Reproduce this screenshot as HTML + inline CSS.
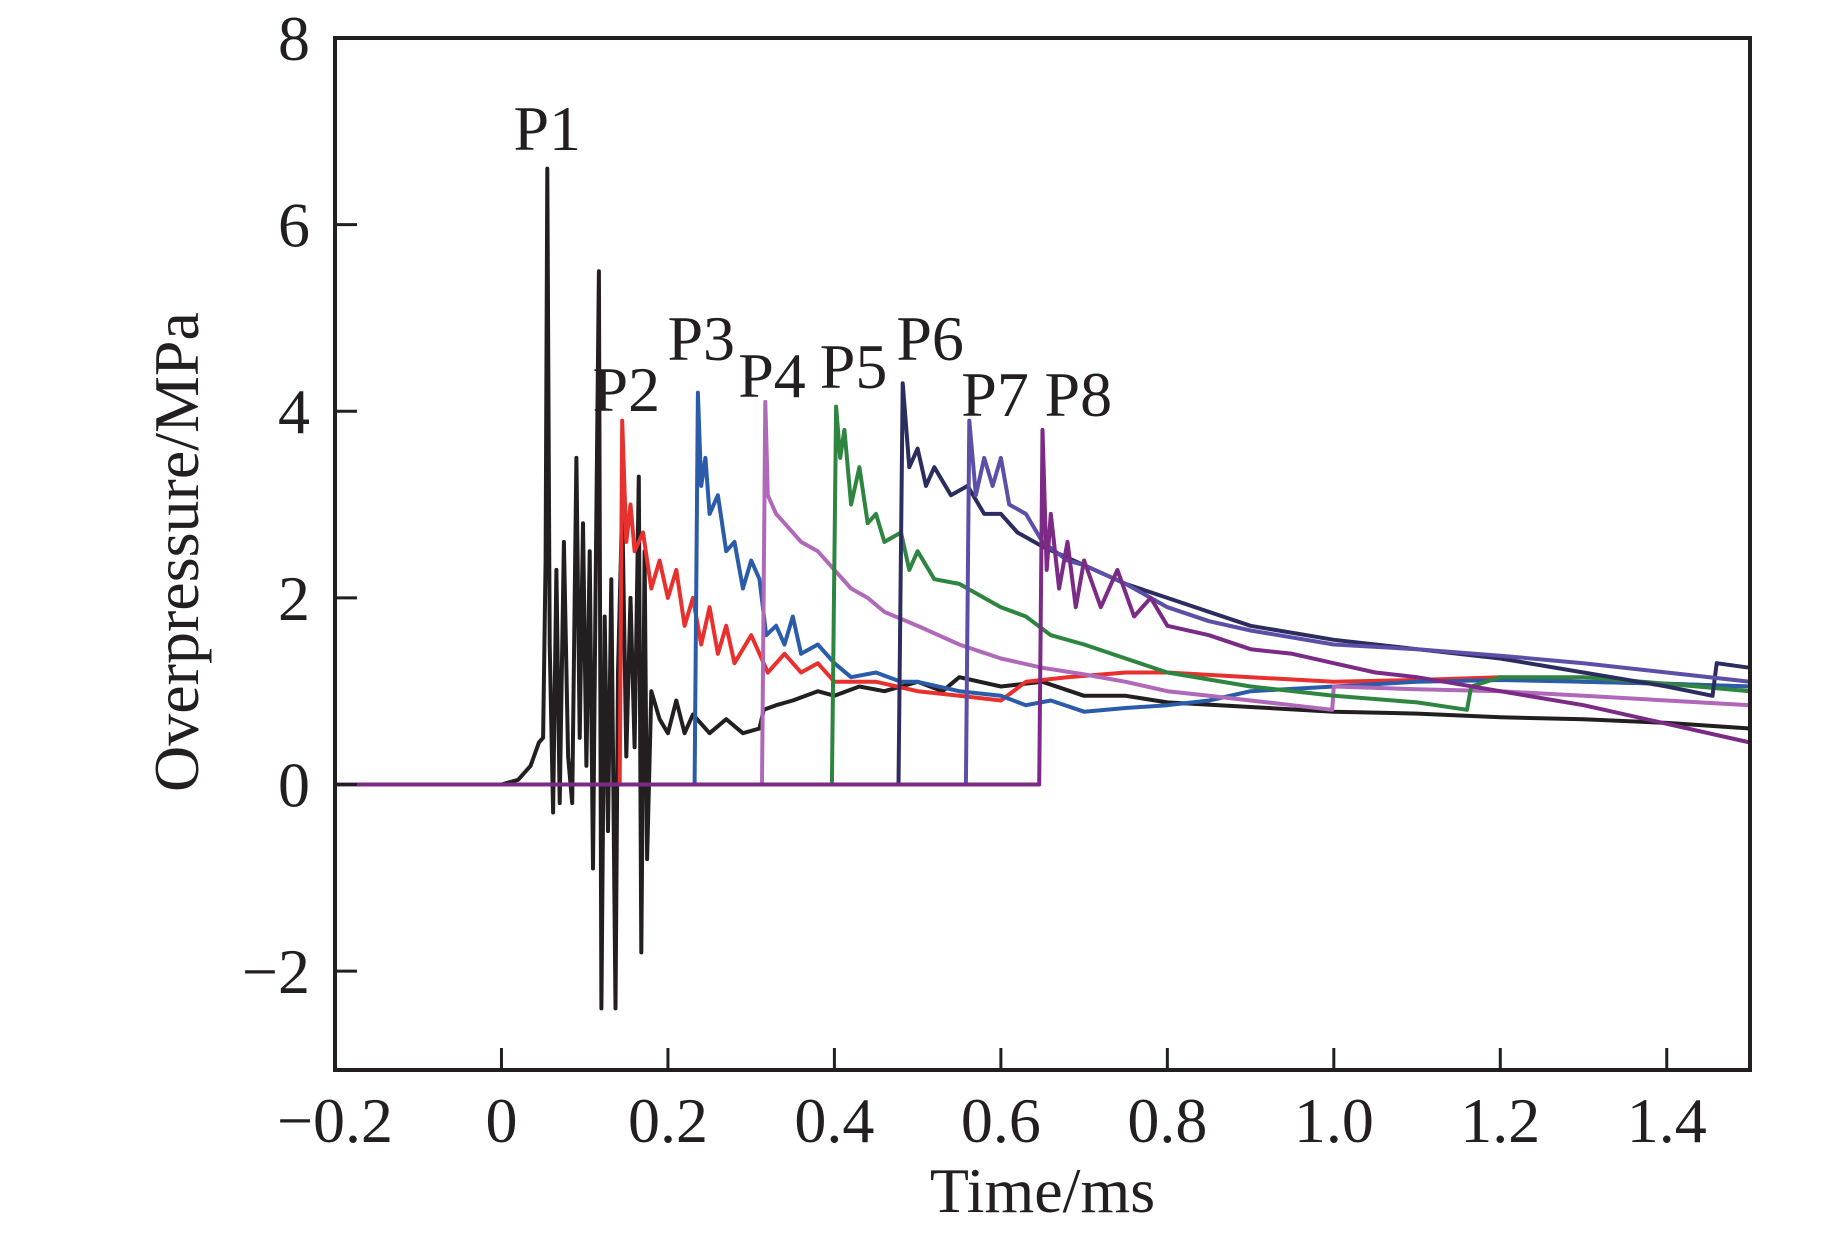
<!DOCTYPE html>
<html><head><meta charset="utf-8"><style>
html,body{margin:0;padding:0;background:#fff;}
svg{display:block;}
text{font-family:"Liberation Serif",serif;fill:#231f20;}
</style></head><body>
<svg id="chart" width="1843" height="1233" viewBox="0 0 1843 1233" xmlns="http://www.w3.org/2000/svg">
<g id="plot"></g>
<g id="axes"></g>
</svg>
<script>
const xTicks=[-0.2,0,0.2,0.4,0.6,0.8,1.0,1.2,1.4];
const xTickLabels=["\u22120.2","0","0.2","0.4","0.6","0.8","1.0","1.2","1.4"];
const yTicks=[-2,0,2,4,6,8];
const yTickLabels=["\u22122","0","2","4","6","8"];
const seriesNames=["P1","P2","P3","P4","P5","P6","P7","P8"];
const seriesColors=["#231f20","#e8312f","#2a5caa","#b068b8","#2e8540","#2b2d5e","#5b4fa8","#7b2a86"];
const p1=[[-0.2,0],[0,0],[0.02,0.05],[0.035,0.2],[0.045,0.45],[0.05,0.5],[0.053,2.4],[0.055,6.6],[0.058,1.5],[0.062,-0.3],[0.066,2.3],[0.07,-0.2],[0.075,2.6],[0.08,0.3],[0.085,-0.2],[0.09,3.5],[0.094,0.5],[0.098,2.8],[0.102,0.2],[0.106,2.5],[0.11,-0.9],[0.113,2.0],[0.117,5.5],[0.12,-2.4],[0.124,1.8],[0.128,-0.5],[0.132,2.2],[0.137,-2.4],[0.14,1.2],[0.145,3.0],[0.15,0.3],[0.155,2.0],[0.16,0.4],[0.165,3.3],[0.168,-1.8],[0.172,2.5],[0.175,-0.8],[0.18,1.0],[0.19,0.7],[0.2,0.55],[0.21,0.9],[0.22,0.55],[0.23,0.75],[0.25,0.55],[0.27,0.7],[0.29,0.55],[0.31,0.6],[0.315,0.8],[0.33,0.85],[0.35,0.9],[0.38,1.0],[0.4,0.95],[0.43,1.05],[0.46,1.0],[0.5,1.1],[0.53,1.0],[0.55,1.15],[0.6,1.05],[0.65,1.1],[0.7,0.95],[0.75,0.95],[0.8,0.88],[0.9,0.83],[1.0,0.78],[1.1,0.76],[1.2,0.72],[1.3,0.7],[1.4,0.66],[1.5,0.6]];
const p2=[[-0.2,0],[0.142,0],[0.145,3.9],[0.15,2.6],[0.155,3.0],[0.16,2.5],[0.17,2.7],[0.18,2.1],[0.19,2.4],[0.2,2.0],[0.21,2.3],[0.22,1.7],[0.23,2.0],[0.24,1.5],[0.25,1.9],[0.26,1.4],[0.27,1.7],[0.28,1.3],[0.3,1.6],[0.32,1.2],[0.34,1.4],[0.36,1.2],[0.38,1.3],[0.4,1.1],[0.45,1.1],[0.5,1.0],[0.55,0.95],[0.6,0.9],[0.63,1.1],[0.68,1.15],[0.75,1.2],[0.8,1.2],[0.9,1.15],[1.0,1.1],[1.1,1.12],[1.2,1.15],[1.3,1.1],[1.4,1.08],[1.5,1.05]];
const p3=[[-0.2,0],[0.232,0],[0.236,4.2],[0.24,3.2],[0.245,3.5],[0.25,2.9],[0.26,3.1],[0.27,2.5],[0.28,2.6],[0.29,2.1],[0.3,2.4],[0.31,2.2],[0.318,1.6],[0.33,1.7],[0.34,1.5],[0.35,1.8],[0.36,1.4],[0.38,1.5],[0.4,1.3],[0.42,1.15],[0.45,1.2],[0.48,1.1],[0.5,1.1],[0.55,1.0],[0.6,0.95],[0.63,0.85],[0.66,0.9],[0.7,0.78],[0.75,0.82],[0.8,0.85],[0.85,0.9],[0.9,1.0],[1.0,1.05],[1.1,1.1],[1.2,1.12],[1.3,1.1],[1.4,1.08],[1.5,1.05]];
const p4=[[-0.2,0],[0.313,0],[0.317,4.1],[0.32,3.1],[0.33,2.9],[0.34,2.8],[0.36,2.6],[0.38,2.5],[0.4,2.3],[0.42,2.1],[0.44,2.0],[0.46,1.85],[0.5,1.7],[0.55,1.5],[0.6,1.35],[0.65,1.25],[0.7,1.18],[0.75,1.1],[0.8,1.0],[0.85,0.95],[0.9,0.9],[0.95,0.85],[0.998,0.8],[1.0,1.05],[1.1,1.02],[1.2,1.0],[1.3,0.95],[1.4,0.9],[1.5,0.85]];
const p5=[[-0.2,0],[0.397,0],[0.402,4.05],[0.407,3.5],[0.412,3.8],[0.42,3.0],[0.43,3.4],[0.44,2.8],[0.45,2.9],[0.46,2.6],[0.48,2.7],[0.49,2.3],[0.5,2.5],[0.52,2.2],[0.55,2.15],[0.58,2.0],[0.6,1.9],[0.63,1.8],[0.66,1.6],[0.7,1.5],[0.75,1.35],[0.8,1.2],[0.9,1.05],[1.0,0.95],[1.1,0.88],[1.16,0.8],[1.165,1.05],[1.2,1.15],[1.3,1.15],[1.4,1.08],[1.5,1.0]];
const p6=[[-0.2,0],[0.477,0],[0.482,4.3],[0.49,3.4],[0.5,3.6],[0.51,3.2],[0.52,3.4],[0.54,3.1],[0.56,3.2],[0.58,2.9],[0.6,2.9],[0.62,2.7],[0.65,2.55],[0.7,2.35],[0.75,2.15],[0.8,2.0],[0.85,1.85],[0.9,1.7],[1.0,1.55],[1.1,1.45],[1.2,1.35],[1.3,1.2],[1.4,1.05],[1.455,0.95],[1.46,1.3],[1.5,1.25]];
const p7=[[-0.2,0],[0.558,0],[0.562,3.9],[0.57,3.1],[0.58,3.5],[0.59,3.2],[0.6,3.5],[0.61,3.0],[0.63,2.9],[0.65,2.6],[0.68,2.4],[0.7,2.35],[0.75,2.15],[0.8,1.9],[0.85,1.75],[0.9,1.65],[1.0,1.5],[1.1,1.45],[1.2,1.38],[1.3,1.3],[1.4,1.2],[1.5,1.1]];
const p8=[[-0.2,0],[0.646,0],[0.65,3.8],[0.655,2.3],[0.66,2.9],[0.67,2.1],[0.68,2.6],[0.69,1.9],[0.7,2.4],[0.72,1.9],[0.74,2.3],[0.76,1.8],[0.78,2.0],[0.8,1.7],[0.85,1.6],[0.9,1.45],[0.95,1.4],[1.0,1.3],[1.05,1.2],[1.1,1.15],[1.2,1.0],[1.3,0.85],[1.4,0.65],[1.5,0.45]];
const seriesData=[p1,p2,p3,p4,p5,p6,p7,p8];
const labelPos=[[0.055,6.8],[0.15,4.0],[0.24,4.55],[0.325,4.15],[0.423,4.25],[0.515,4.55],[0.593,3.95],[0.693,3.95]];

const X0=335,X1=1750,Y0=38,Y1=1070,xmin=-0.2,xmax=1.5,ymax=8,ymin=-3.06;
function sx(v){return X0+(v-xmin)/(xmax-xmin)*(X1-X0);}
function sy(v){return Y0+(ymax-v)/(ymax-ymin)*(Y1-Y0);}
const NS="http://www.w3.org/2000/svg";
const plot=document.getElementById('plot'),axes=document.getElementById('axes');
function mk(tag,attrs,parent){const e=document.createElementNS(NS,tag);for(const k in attrs)e.setAttribute(k,attrs[k]);parent.appendChild(e);return e;}
seriesData.forEach((d,i)=>{
  const p=mk('polyline',{points:d.map(q=>sx(q[0]).toFixed(1)+','+sy(q[1]).toFixed(1)).join(' '),fill:'none',stroke:seriesColors[i],'stroke-width':4,'stroke-linejoin':'round'},plot);
  
  
});
seriesNames.forEach((n,i)=>{
  const t=mk('text',{x:sx(labelPos[i][0]),y:sy(labelPos[i][1]),'font-size':64,'text-anchor':'middle'},plot);
  t.textContent=n;
  
  
});
const fr=mk('rect',{x:X0,y:Y0,width:X1-X0,height:Y1-Y0,fill:'none',stroke:'#231f20','stroke-width':4},axes);


xTicks.forEach((v,i)=>{
  const l=mk('line',{x1:sx(v),x2:sx(v),y1:Y1,y2:Y1-22,stroke:'#231f20','stroke-width':3},axes);
  
  
  const t=mk('text',{x:sx(v),y:1142,'font-size':64,'text-anchor':'middle'},axes);
  t.textContent=xTickLabels[i];
  
  
});
yTicks.forEach((v,i)=>{
  const l=mk('line',{x1:X0,x2:X0+22,y1:sy(v),y2:sy(v),stroke:'#231f20','stroke-width':3},axes);
  
  
  const t=mk('text',{x:310,y:sy(v)+22,'font-size':64,'text-anchor':'end'},axes);
  t.textContent=yTickLabels[i];
  
  
});
const xt=mk('text',{x:(X0+X1)/2,y:1212,'font-size':64,'text-anchor':'middle'},axes);
xt.textContent='Time/ms';


const yt=mk('text',{x:0,y:0,'font-size':64,'text-anchor':'middle',transform:'translate(198,552) rotate(-90)'},axes);
yt.textContent='Overpressure/MPa';


</script>
</body></html>
